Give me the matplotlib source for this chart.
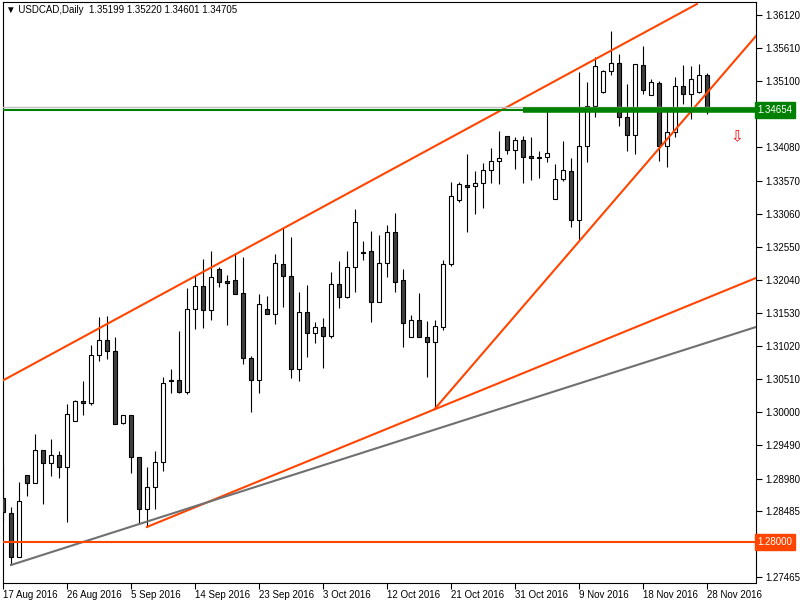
import numpy as np
import matplotlib.pyplot as plt
from matplotlib.transforms import blended_transform_factory

plt.rcParams['font.family'] = ['Liberation Sans', 'DejaVu Sans']

# USDCAD daily candles, 89 bars
opens = [1.28681, 1.28450, 1.27773, 1.29036, 1.28912, 1.29421, 1.29220, 1.29344, 1.29159, 1.29867,
         1.30175, 1.30144, 1.30884, 1.31115, 1.30945, 1.29836, 1.29960, 1.29313, 1.28512, 1.28851,
         1.29236, 1.30499, 1.30499, 1.30314, 1.31592, 1.31946, 1.31577, 1.32208, 1.32023, 1.32039,
         1.31839, 1.30837, 1.30499, 1.31592, 1.31515, 1.32285, 1.32100, 1.30668, 1.31546, 1.31223,
         1.31315, 1.31176, 1.31977, 1.31777, 1.32239, 1.32470, 1.32485, 1.31700, 1.32301, 1.32778,
         1.32039, 1.31161, 1.31423, 1.31161, 1.31084, 1.31315, 1.32285, 1.33271, 1.33502, 1.33486,
         1.33533, 1.33733, 1.33871, 1.34257, 1.34041, 1.34195, 1.33948, 1.33933, 1.33933, 1.33286,
         1.33594, 1.33717, 1.32963, 1.34103, 1.34719, 1.34934, 1.35258, 1.35381, 1.34549, 1.34272,
         1.35350, 1.34888, 1.35073, 1.34103, 1.34318, 1.35026, 1.34903, 1.34934, 1.35199]
highs = [1.29190, 1.28543, 1.28928, 1.29036, 1.29667, 1.29421, 1.29590, 1.29405, 1.30129, 1.30191,
         1.30483, 1.31038, 1.31469, 1.31484, 1.31161, 1.29960, 1.29960, 1.29313, 1.29159, 1.29405,
         1.30545, 1.30668, 1.31253, 1.31916, 1.32100, 1.32362, 1.32485, 1.32239, 1.32116, 1.32455,
         1.32393, 1.30868, 1.31823, 1.31792, 1.32439, 1.32840, 1.32701, 1.31854, 1.31962, 1.31392,
         1.31454, 1.32162, 1.32331, 1.32485, 1.33132, 1.32639, 1.32793, 1.32732, 1.32886, 1.33071,
         1.32208, 1.31500, 1.31839, 1.31407, 1.31423, 1.32347, 1.33548, 1.33548, 1.33979, 1.33717,
         1.33841, 1.34072, 1.34334, 1.34257, 1.34241, 1.34257, 1.34241, 1.34025, 1.34657, 1.33825,
         1.34180, 1.33918, 1.35242, 1.35088, 1.35473, 1.35273, 1.35874, 1.35519, 1.35057, 1.35365,
         1.35643, 1.35134, 1.35104, 1.34672, 1.35165, 1.35350, 1.35335, 1.35365, 1.35220]
lows = [1.28312, 1.27649, 1.27773, 1.28712, 1.28912, 1.28589, 1.29020, 1.28989, 1.28312, 1.29867,
        1.29960, 1.30114, 1.30791, 1.30822, 1.29821, 1.29821, 1.29066, 1.28281, 1.28235, 1.28512,
        1.29097, 1.30298, 1.30298, 1.30283, 1.31284, 1.31300, 1.31423, 1.31931, 1.31346, 1.31823,
        1.30745, 1.30006, 1.30298, 1.31515, 1.31361, 1.31623, 1.30529, 1.30483, 1.30853, 1.31069,
        1.30683, 1.31146, 1.31608, 1.31762, 1.31854, 1.32347, 1.31392, 1.31700, 1.32085, 1.31854,
        1.31007, 1.31161, 1.31161, 1.30545, 1.30052, 1.31269, 1.32254, 1.33240, 1.32778, 1.33055,
        1.33148, 1.33533, 1.33517, 1.33979, 1.33748, 1.33533, 1.33579, 1.33610, 1.33856, 1.33286,
        1.33563, 1.32855, 1.32639, 1.33856, 1.34549, 1.34919, 1.35196, 1.34411, 1.34025, 1.33979,
        1.34903, 1.34888, 1.33871, 1.33779, 1.34241, 1.34749, 1.34518, 1.34919, 1.34601]
closes = [1.28466, 1.27773, 1.28635, 1.28912, 1.29421, 1.29220, 1.29344, 1.29159, 1.29975, 1.30175,
          1.30144, 1.30884, 1.31115, 1.30945, 1.29821, 1.29960, 1.29313, 1.28512, 1.28851, 1.29236,
          1.30452, 1.30483, 1.30314, 1.31592, 1.31946, 1.31577, 1.32085, 1.32008, 1.31993, 1.31823,
          1.30837, 1.30499, 1.31669, 1.31515, 1.32301, 1.32100, 1.30668, 1.31546, 1.31223, 1.31315,
          1.31176, 1.31977, 1.31777, 1.32239, 1.32932, 1.32455, 1.31700, 1.32301, 1.32778, 1.32008,
          1.31377, 1.31423, 1.31161, 1.31084, 1.31330, 1.32285, 1.33332, 1.33517, 1.33471, 1.33533,
          1.33733, 1.33871, 1.33918, 1.34041, 1.34195, 1.33933, 1.33918, 1.33918, 1.33995, 1.33594,
          1.33733, 1.32963, 1.34103, 1.34719, 1.35335, 1.35258, 1.35381, 1.34549, 1.34272, 1.35365,
          1.34965, 1.35088, 1.34103, 1.34318, 1.35026, 1.34903, 1.35134, 1.35196, 1.34705]

date_labels = ['17 Aug 2016', '26 Aug 2016', '5 Sep 2016', '14 Sep 2016', '23 Sep 2016',
               '3 Oct 2016', '12 Oct 2016', '21 Oct 2016', '31 Oct 2016', '9 Nov 2016',
               '18 Nov 2016', '28 Nov 2016']
label_step = 8
price_ticks = [1.36120, 1.35610, 1.35100, 1.34590, 1.34080, 1.33570, 1.33060, 1.32550,
               1.32040, 1.31530, 1.31020, 1.30510, 1.30000, 1.29490, 1.28980, 1.28485,
               1.27975, 1.27465]
hidden_ticks = [1.34590, 1.27975]  # covered by the price boxes

# drawn objects (bar index, price)
channel_top = [(0.06, 1.30496), (86.8, 1.36289)]
channel_low = [(18, 1.28235), (94.19, 1.32070)]
steep_line = [(54, 1.30052), (94.19, 1.35797)]
gray_line = [(1, 1.27649), (94.19, 1.31315)]
support = 1.28000
green_level = 1.34654
green_from = 65.06
bid_price = 1.34705
arrow_pos = (91.8, 1.34241)
title = 'USDCAD,Daily  1.35199 1.35220 1.34601 1.34705'

o = np.array(opens); h = np.array(highs); l = np.array(lows); c = np.array(closes)
x = np.arange(len(o))

fig = plt.figure(figsize=(8, 6), dpi=100)
ax = fig.add_axes([3/800, 17/600, 753/800, 581/600])
ax.set_xlim(0.0625, 94.19)
ax.set_ylim(1.27372, 1.36320)

ax.vlines(x, l, h, color='black', linewidth=0.8, zorder=2)
fills = np.where(c >= o, 'white', '#404040')
ax.bar(x, np.abs(c - o), bottom=np.minimum(o, c), width=0.5, color=fills,
       edgecolor='black', linewidth=0.8, zorder=3)

orange = '#ff4500'
for seg in (channel_top, channel_low, steep_line):
    ax.plot([seg[0][0], seg[1][0]], [seg[0][1], seg[1][1]], color=orange, lw=1.5, zorder=4)
ax.plot([gray_line[0][0], gray_line[1][0]], [gray_line[0][1], gray_line[1][1]],
        color='#707070', lw=1.5, zorder=4)
ax.axhline(support, color=orange, lw=1.5, zorder=4)
ax.axhline(bid_price, color='#c0c0c0', lw=1.0, zorder=4)
ax.axhline(green_level, color='#008000', lw=1.5, zorder=5)
ax.plot([green_from, 94.19], [green_level, green_level], color='#008000', lw=4, zorder=5,
        solid_capstyle='butt')

ax.text(arrow_pos[0], arrow_pos[1], '\u21e9', color='red', fontsize=11,
        ha='center', va='center', zorder=6)

# axes style
for s in ax.spines.values():
    s.set_color('black')
    s.set_linewidth(0.8)
ax.yaxis.tick_right()
ax.set_yticks(price_ticks)
ax.set_yticklabels(['' if p in hidden_ticks else '%.5f' % p for p in price_ticks])
ax.tick_params(axis='y', direction='out', length=4, width=0.8, labelsize=7, pad=3)
ax.set_xticks(x[::label_step])
ax.set_xticklabels(date_labels)
ax.tick_params(axis='x', direction='out', length=4, width=0.8, labelsize=7, pad=1)
for t in ax.get_xticklabels():
    t.set_ha('left')

tr = blended_transform_factory(ax.transAxes, ax.transData)
ax.text(1.002, green_level, '1.34654', transform=tr, color='white', fontsize=7,
        ha='left', va='center', clip_on=False, zorder=10,
        bbox=dict(boxstyle='square,pad=0.3', fc='#008000', ec='#008000'))
ax.text(1.002, support, '1.28000', transform=tr, color='white', fontsize=7,
        ha='left', va='center', clip_on=False, zorder=10,
        bbox=dict(boxstyle='square,pad=0.3', fc=orange, ec=orange))

ax.text(0.004, 0.987, '\u25bc ' + title, transform=ax.transAxes, fontsize=7,
        ha='left', va='center', color='black')

fig.savefig('out.png', dpi=100)
